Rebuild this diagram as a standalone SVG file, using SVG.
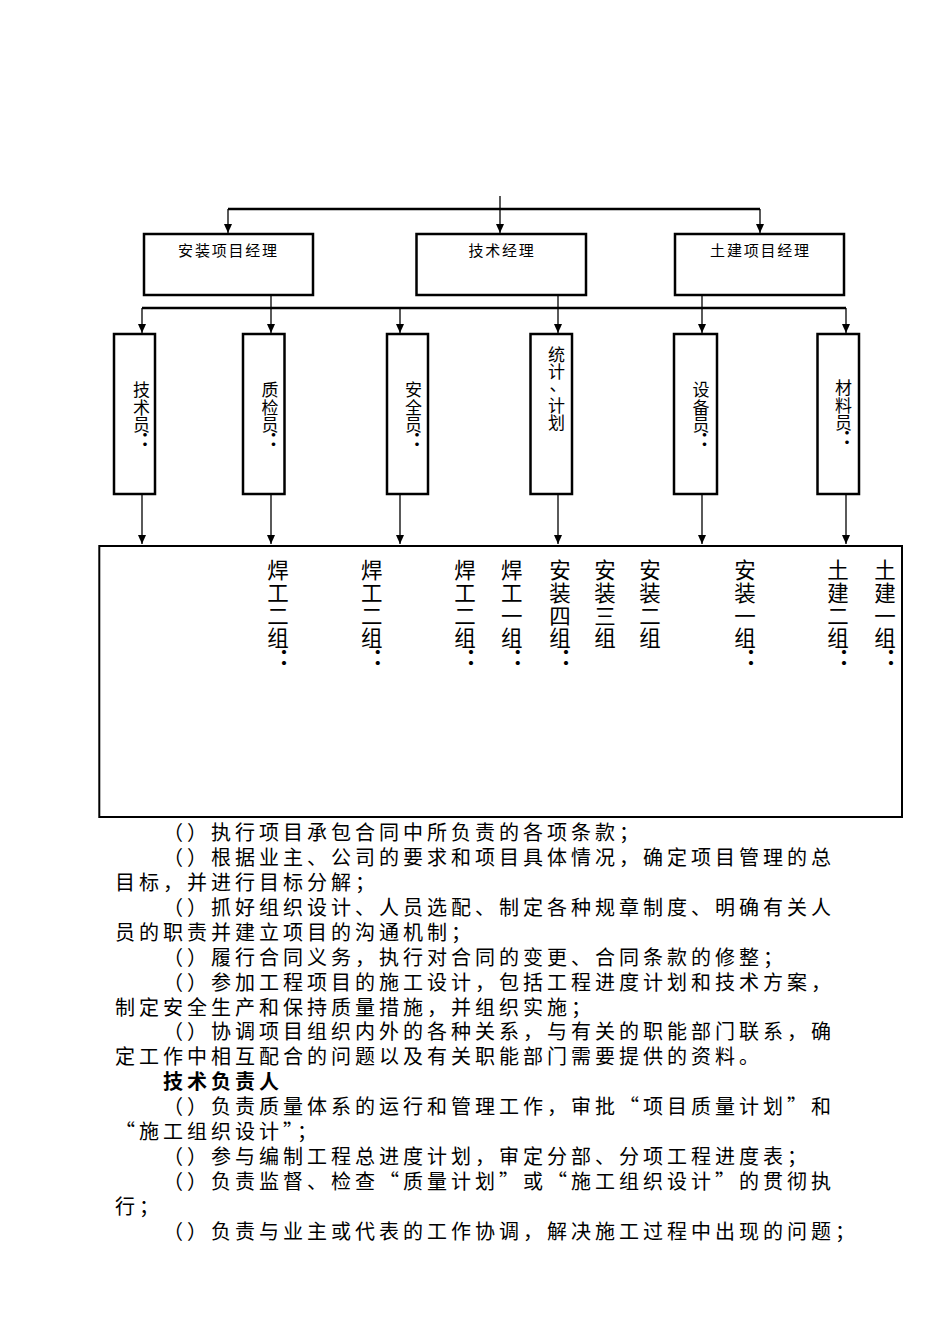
<svg xmlns="http://www.w3.org/2000/svg" width="950" height="1344" viewBox="0 0 950 1344">
<style>
.box{fill:#fff;stroke:#000;stroke-width:2.5}
.bigbox{fill:#fff;stroke:#000;stroke-width:2}
.bus{fill:none;stroke:#000;stroke-width:2.5}
.arr{fill:none;stroke:#000;stroke-width:1.3;marker-end:url(#ah)}
.t15{font-family:"Noto Sans CJK SC","Noto Sans",sans-serif;font-size:15px;letter-spacing:1.8px;text-anchor:middle;fill:#000}
.v17{font-family:"Noto Sans CJK SC","Noto Sans",sans-serif;font-size:17px;text-anchor:middle;fill:#000}
.v21{font-family:"Noto Sans CJK SC","Noto Sans",sans-serif;font-size:21.5px;text-anchor:middle;fill:#000}
.c17{font-family:"Noto Sans CJK TC","Noto Sans",sans-serif;font-size:19px;font-weight:bold;text-anchor:middle;fill:#000}
.c21{font-family:"Noto Sans CJK TC","Noto Sans",sans-serif;font-size:22px;font-weight:bold;text-anchor:middle;fill:#000}
.body{font-family:"Noto Sans CJK SC","Noto Sans",sans-serif;font-size:20px;letter-spacing:4px;fill:#000}
.bold{font-weight:bold}
</style>
<defs>
<marker id="ah" markerUnits="userSpaceOnUse" markerWidth="10" markerHeight="9" refX="9" refY="4" orient="auto">
<path d="M0,0 L9,4 L0,8 z" fill="#000"/>
</marker>
</defs>

<g id="connectors">
<path class="arr" d="M500,196 V233"/>
<path class="bus" d="M228,209 H760"/>
<path class="arr" d="M228,209 V233"/>
<path class="arr" d="M760,209 V233"/>
<path class="bus" d="M142,308 H846"/>
<path class="arr" d="M271,296 V333"/>
<path class="arr" d="M558,296 V333"/>
<path class="arr" d="M702,296 V333"/>
<path class="arr" d="M142,308 V333"/>
<path class="arr" d="M400,308 V333"/>
<path class="arr" d="M846,308 V333"/>
<path class="arr" d="M142,495 V544"/>
<path class="arr" d="M271,495 V544"/>
<path class="arr" d="M400,495 V544"/>
<path class="arr" d="M558,495 V544"/>
<path class="arr" d="M702,495 V544"/>
<path class="arr" d="M846,495 V544"/>
</g>

<g id="n-anzhuang-pm">
<rect class="box" x="144" y="234" width="169" height="61"/>
<text class="t15" x="228.5" y="255.5">安装项目经理</text>
</g>
<g id="n-tech-mgr">
<rect class="box" x="416.5" y="234" width="169.5" height="61"/>
<text class="t15" x="502" y="255.5">技术经理</text>
</g>
<g id="n-tujian-pm">
<rect class="box" x="675" y="234" width="169" height="61"/>
<text class="t15" x="760.5" y="255.5">土建项目经理</text>
</g>

<g id="n-jishuyuan">
<rect class="box" x="114" y="334" width="41" height="160"/>
<text class="v17"><tspan x="141.5" y="396">技</tspan><tspan x="141.5" y="413.5">术</tspan><tspan x="141.5" y="430.5">员</tspan></text>
<text class="c17" x="145" y="447">：</text>
</g>
<g id="n-zhijianyuan">
<rect class="box" x="243" y="334" width="41.5" height="160"/>
<text class="v17"><tspan x="270" y="396">质</tspan><tspan x="270" y="413.5">检</tspan><tspan x="270" y="430.5">员</tspan></text>
<text class="c17" x="273.5" y="447">：</text>
</g>
<g id="n-anquanyuan">
<rect class="box" x="387" y="334" width="41" height="160"/>
<text class="v17"><tspan x="413.5" y="396">安</tspan><tspan x="413.5" y="413.5">全</tspan><tspan x="413.5" y="430.5">员</tspan></text>
<text class="c17" x="417" y="447">：</text>
</g>
<g id="n-tongji">
<rect class="box" x="530.5" y="334" width="41.5" height="160"/>
<text class="v17"><tspan x="556.5" y="360.5">统</tspan><tspan x="556.5" y="377.5">计</tspan><tspan x="558" y="391">、</tspan><tspan x="556.5" y="411.5">计</tspan><tspan x="556.5" y="428.5">划</tspan></text>
</g>
<g id="n-shebeiyuan">
<rect class="box" x="674" y="334" width="43" height="160"/>
<text class="v17"><tspan x="701" y="396">设</tspan><tspan x="701" y="413.5">备</tspan><tspan x="701" y="430.5">员</tspan></text>
<text class="c17" x="704.5" y="447">：</text>
</g>
<g id="n-cailiaoyuan">
<rect class="box" x="817.5" y="334" width="41.5" height="160"/>
<text class="v17"><tspan x="843.5" y="394">材</tspan><tspan x="843.5" y="411.5">料</tspan><tspan x="843.5" y="428.5">员</tspan></text>
<text class="c17" x="847" y="445">：</text>
</g>

<g id="n-teams">
<rect class="bigbox" x="99.3" y="546" width="802.7" height="271"/>
<text class="v21"><tspan x="278" y="578">焊</tspan><tspan x="278" y="601">工</tspan><tspan x="278" y="623.5">二</tspan><tspan x="278" y="645.5">组</tspan></text>
<text class="c21" x="284" y="665">：</text>
<text class="v21"><tspan x="371.7" y="578">焊</tspan><tspan x="371.7" y="601">工</tspan><tspan x="371.7" y="623.5">二</tspan><tspan x="371.7" y="645.5">组</tspan></text>
<text class="c21" x="377.7" y="665">：</text>
<text class="v21"><tspan x="465" y="578">焊</tspan><tspan x="465" y="601">工</tspan><tspan x="465" y="623.5">二</tspan><tspan x="465" y="645.5">组</tspan></text>
<text class="c21" x="471" y="665">：</text>
<text class="v21"><tspan x="511.7" y="578">焊</tspan><tspan x="511.7" y="601">工</tspan><tspan x="511.7" y="623.5">一</tspan><tspan x="511.7" y="645.5">组</tspan></text>
<text class="c21" x="517.7" y="665">：</text>
<text class="v21"><tspan x="560" y="578">安</tspan><tspan x="560" y="601">装</tspan><tspan x="560" y="623.5">四</tspan><tspan x="560" y="645.5">组</tspan></text>
<text class="c21" x="566" y="665">：</text>
<text class="v21"><tspan x="605" y="578">安</tspan><tspan x="605" y="601">装</tspan><tspan x="605" y="623.5">三</tspan><tspan x="605" y="645.5">组</tspan></text>
<text class="v21"><tspan x="650" y="578">安</tspan><tspan x="650" y="601">装</tspan><tspan x="650" y="623.5">二</tspan><tspan x="650" y="645.5">组</tspan></text>
<text class="v21"><tspan x="745" y="578">安</tspan><tspan x="745" y="601">装</tspan><tspan x="745" y="623.5">一</tspan><tspan x="745" y="645.5">组</tspan></text>
<text class="c21" x="751" y="665">：</text>
<text class="v21"><tspan x="838" y="578">土</tspan><tspan x="838" y="601">建</tspan><tspan x="838" y="623.5">二</tspan><tspan x="838" y="645.5">组</tspan></text>
<text class="c21" x="844" y="665">：</text>
<text class="v21"><tspan x="885" y="578">土</tspan><tspan x="885" y="601">建</tspan><tspan x="885" y="623.5">一</tspan><tspan x="885" y="645.5">组</tspan></text>
<text class="c21" x="891" y="665">：</text>
</g>

<g id="body-text">
<text class="body" x="163" y="840">（）执行项目承包合同中所负责的各项条款；</text>
<text class="body" x="163" y="865">（）根据业主、公司的要求和项目具体情况，确定项目管理的总</text>
<text class="body" x="115" y="890">目标，并进行目标分解；</text>
<text class="body" x="163" y="915">（）抓好组织设计、人员选配、制定各种规章制度、明确有关人</text>
<text class="body" x="115" y="940">员的职责并建立项目的沟通机制；</text>
<text class="body" x="163" y="965">（）履行合同义务，执行对合同的变更、合同条款的修整；</text>
<text class="body" x="163" y="990">（）参加工程项目的施工设计，包括工程进度计划和技术方案，</text>
<text class="body" x="115" y="1015">制定安全生产和保持质量措施，并组织实施；</text>
<text class="body" x="163" y="1039">（）协调项目组织内外的各种关系，与有关的职能部门联系，确</text>
<text class="body" x="115" y="1064">定工作中相互配合的问题以及有关职能部门需要提供的资料。</text>
<text class="body bold" x="163" y="1089">技术负责人</text>
<text class="body" x="163" y="1114">（）负责质量体系的运行和管理工作，审批“项目质量计划”和</text>
<text class="body" x="115" y="1139">“施工组织设计”；</text>
<text class="body" x="163" y="1164">（）参与编制工程总进度计划，审定分部、分项工程进度表；</text>
<text class="body" x="163" y="1189">（）负责监督、检查“质量计划”或“施工组织设计”的贯彻执</text>
<text class="body" x="115" y="1214">行；</text>
<text class="body" x="163" y="1239">（）负责与业主或代表的工作协调，解决施工过程中出现的问题；</text>
</g>
</svg>
